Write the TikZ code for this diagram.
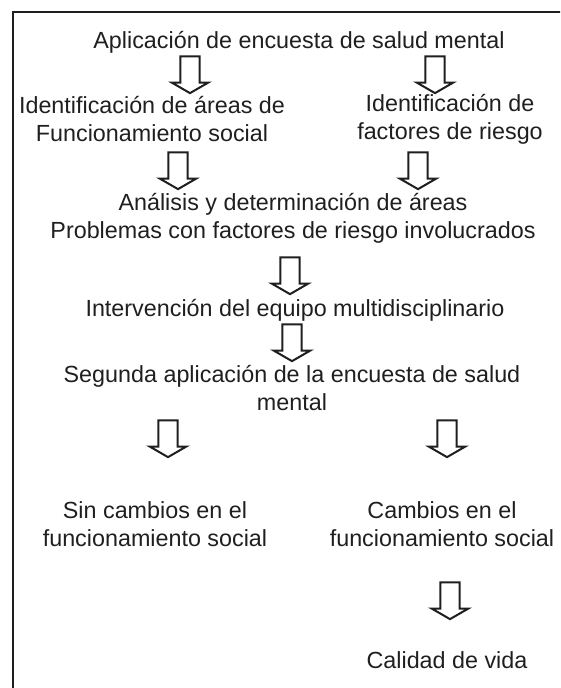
\documentclass[tikz,border=0pt]{standalone}
\usepackage{fontspec}
\setmainfont{Liberation Sans}
\usepackage{xcolor}
\usepackage{tikz}
\usetikzlibrary{shapes.arrows}

\tikzset{
  txt/.style={align=center, inner sep=0pt, font=\fontsize{17.5}{21}\selectfont, text=black!88},
  down/.style={single arrow, draw=black!88, line width=1.5pt, rotate=-90, inner sep=6.5pt,
    minimum height=27.5pt, single arrow head extend=6.5pt, single arrow tip angle=120}
}

\begin{document}
\begin{tikzpicture}[x=0.75pt, y=-0.75pt]
\clip (0,0) rectangle (560,688);
\useasboundingbox (0,0) rectangle (560,688);
\draw[line width=2.2pt, black!88] (13,720) |- (600,12);
\node[txt] (apl) at (299,42) {Aplicación de encuesta de salud mental};
\node[txt] (idfs) at (152,119) {Identificación de áreas de\\Funcionamiento social};
\node[txt] (idfr) at (450,119) {Identificación de\\factores de riesgo};
\node[txt] (anal) at (293,218) {Análisis y determinación de áreas\\Problemas con factores de riesgo involucrados};
\node[txt] (interv) at (295,310) {Intervención del equipo multidisciplinario};
\node[txt] (seg) at (292,388) {Segunda aplicación de la encuesta de salud\\mental};
\node[txt] (sin) at (155,524) {Sin cambios en el\\funcionamiento social};
\node[txt] (camb) at (442,524) {Cambios en el\\funcionamiento social};
\node[txt] (cal) at (447,660) {Calidad de vida};
\node[down] (a1) at (190,72) {};
\node[down] (a2) at (435,72) {};
\node[down] (a3) at (178,168) {};
\node[down] (a4) at (418,168) {};
\node[down] (a5) at (290,273) {};
\node[down] (a6) at (292,340) {};
\node[down] (a7) at (168,436) {};
\node[down] (a8) at (447,436) {};
\node[down] (a9) at (450,598) {};
\end{tikzpicture}
\end{document}
